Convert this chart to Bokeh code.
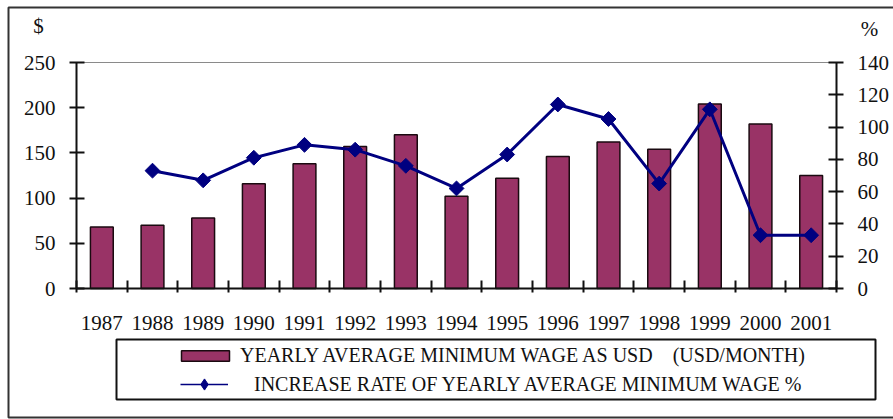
from bokeh.plotting import figure
from bokeh.models import (ColumnDataSource, LinearAxis, Range1d, FixedTicker, Legend,
                          LegendItem, BoxAnnotation, Label)
from bokeh.embed import file_html
from bokeh.resources import INLINE

# ---------------- data ----------------
years = [1987, 1988, 1989, 1990, 1991, 1992, 1993, 1994, 1995, 1996, 1997, 1998, 1999, 2000, 2001]
wage_usd = [68, 70, 78, 116, 138, 157, 170, 102, 122, 146, 162, 154, 204, 182, 125]
rate_years = [1988, 1989, 1990, 1991, 1992, 1993, 1994, 1995, 1996, 1997, 1998, 1999, 2000, 2001]
rate_pct = [73, 67, 81, 89, 86, 76, 62, 83, 114, 105, 65, 111, 33, 33]
left_ticks = [0, 50, 100, 150, 200, 250]
right_ticks = [0, 20, 40, 60, 80, 100, 120, 140]
bar_label = "YEARLY AVERAGE MINIMUM WAGE AS USD\u00a0\u00a0\u00a0\u00a0(USD/MONTH)"
line_label = "\u00a0\u00a0\u2009INCREASE RATE OF YEARLY AVERAGE MINIMUM WAGE %"

# ---------------- layout (pixels) ----------------
W, H = 893, 419
PX_LEFT, PX_RIGHT, PX_TOP, PX_BOTTOM = 76, 836, 62, 288   # plot area edges
FONT = "Liberation Serif"
BAR_COLOR = "#993366"
LINE_COLOR = "#000080"
INK = "#111111"

x0, x1 = years[0] - 0.5, years[-1] + 0.5
xs = (PX_RIGHT - PX_LEFT) / (x1 - x0)
ls = (PX_BOTTOM - PX_TOP) / (left_ticks[-1] - left_ticks[0])
rs = (PX_BOTTOM - PX_TOP) / (right_ticks[-1] - right_ticks[0])


def xd(px):
    return x0 + (px - PX_LEFT) / xs


def yd(py):
    return (PX_BOTTOM - py) / ls


p = figure(width=W, height=H, output_backend="svg", toolbar_location=None,
           x_range=Range1d(xd(0), xd(W)), y_range=Range1d(yd(H), yd(0)),
           min_border=0, x_axis_location=None, y_axis_location=None)
p.extra_y_ranges = {"pct": Range1d(-(H - PX_BOTTOM) / rs, PX_BOTTOM / rs)}
p.xgrid.visible = False
p.ygrid.visible = False
p.outline_line_color = None
p.background_fill_color = "white"
p.border_fill_color = "white"

# x axis at y=0: labels at centers, ticks at category boundaries
xa = LinearAxis(fixed_location=0, bounds=(x0, x1),
                ticker=FixedTicker(ticks=years, minor_ticks=[y - 0.5 for y in years] + [years[-1] + 0.5]))
xa.major_tick_in = 0
xa.major_tick_out = 0
xa.minor_tick_in = 8
xa.minor_tick_out = 4
xa.minor_tick_line_color = INK
xa.minor_tick_line_width = 2
xa.axis_line_color = INK
xa.axis_line_width = 2
xa.major_label_standoff = 23
xa.major_label_text_font = FONT
xa.major_label_text_font_size = "21px"
xa.major_label_text_color = INK
p.add_layout(xa, "below")

# top gray border of plot area
ta = LinearAxis(fixed_location=left_ticks[-1], bounds=(x0, x1), ticker=FixedTicker(ticks=[]),
                major_label_text_font_size="0px", axis_line_color="#8a8a8a", axis_line_width=1)
p.add_layout(ta, "above")

ya = LinearAxis(fixed_location=x0, bounds=(left_ticks[0], left_ticks[-1]),
                ticker=FixedTicker(ticks=left_ticks))
ra = LinearAxis(fixed_location=x1, y_range_name="pct", bounds=(right_ticks[0], right_ticks[-1]),
                ticker=FixedTicker(ticks=right_ticks))
for ax in (ya, ra):
    ax.major_tick_in = 8
    ax.major_tick_out = 7
    ax.minor_tick_line_color = None
    ax.major_tick_line_color = INK
    ax.major_tick_line_width = 2
    ax.axis_line_color = INK
    ax.axis_line_width = 2
    ax.major_label_standoff = 14
    ax.major_label_text_font = FONT
    ax.major_label_text_font_size = "21px"
    ax.major_label_text_color = INK
p.add_layout(ya, "left")
p.add_layout(ra, "right")

bars = p.vbar(x=years, top=wage_usd, width=0.45, fill_color=BAR_COLOR,
              line_color="#1a0a10", line_width=1.5)
p.line(rate_years, rate_pct, y_range_name="pct", line_color=LINE_COLOR, line_width=3)
p.scatter(rate_years, rate_pct, y_range_name="pct", marker="square", angle=0.785398, size=10.5,
          fill_color=LINE_COLOR, line_color=LINE_COLOR)

# legend-only renderers (thin line, small marker); NaN data so nothing is drawn in the plot
nan = float("nan")
leg_src = ColumnDataSource(data=dict(x=[nan], y=[nan]))
leg_line = p.line("x", "y", source=leg_src, line_color=LINE_COLOR, line_width=1.5)
leg_pt = p.scatter("x", "y", source=leg_src, marker="diamond", size=7,
                   fill_color=LINE_COLOR, line_color=LINE_COLOR)

common = dict(orientation="vertical", padding=0, margin=0, spacing=0,
              border_line_color=None, background_fill_alpha=0,
              label_text_font=FONT, label_text_font_size="20px", label_text_color=INK)
legend_bar = Legend(items=[LegendItem(label=bar_label, renderers=[bars], index=0)],
                    location=(175, 52), glyph_width=60, glyph_height=13, label_standoff=5,
                    **common)
legend_line = Legend(items=[LegendItem(label=line_label, renderers=[leg_line, leg_pt], index=0)],
                     location=(180, 21), glyph_width=48, glyph_height=28, label_standoff=12,
                     **common)
p.add_layout(legend_bar, "center")
p.add_layout(legend_line, "center")

# legend frame
p.add_layout(BoxAnnotation(left=xd(116), right=xd(875), top=yd(339), bottom=yd(399),
                           fill_alpha=0, line_color=INK, line_alpha=1, line_width=2))
# outer chart border (left, top, bottom)
p.add_layout(BoxAnnotation(left=xd(8), right=xd(W + 20), top=yd(7), bottom=yd(417),
                           fill_alpha=0, line_color="#333333", line_alpha=1, line_width=2))

p.add_layout(Label(x=xd(38), y=yd(25), text="$",
                   text_font=FONT, text_font_size="21px", text_color=INK,
                   text_align="center", text_baseline="middle"))
p.add_layout(Label(x=xd(869), y=yd(28), text="%",
                   text_font=FONT, text_font_size="21px", text_color=INK,
                   text_align="center", text_baseline="middle"))

open("out.html", "w").write(file_html(p, INLINE))
